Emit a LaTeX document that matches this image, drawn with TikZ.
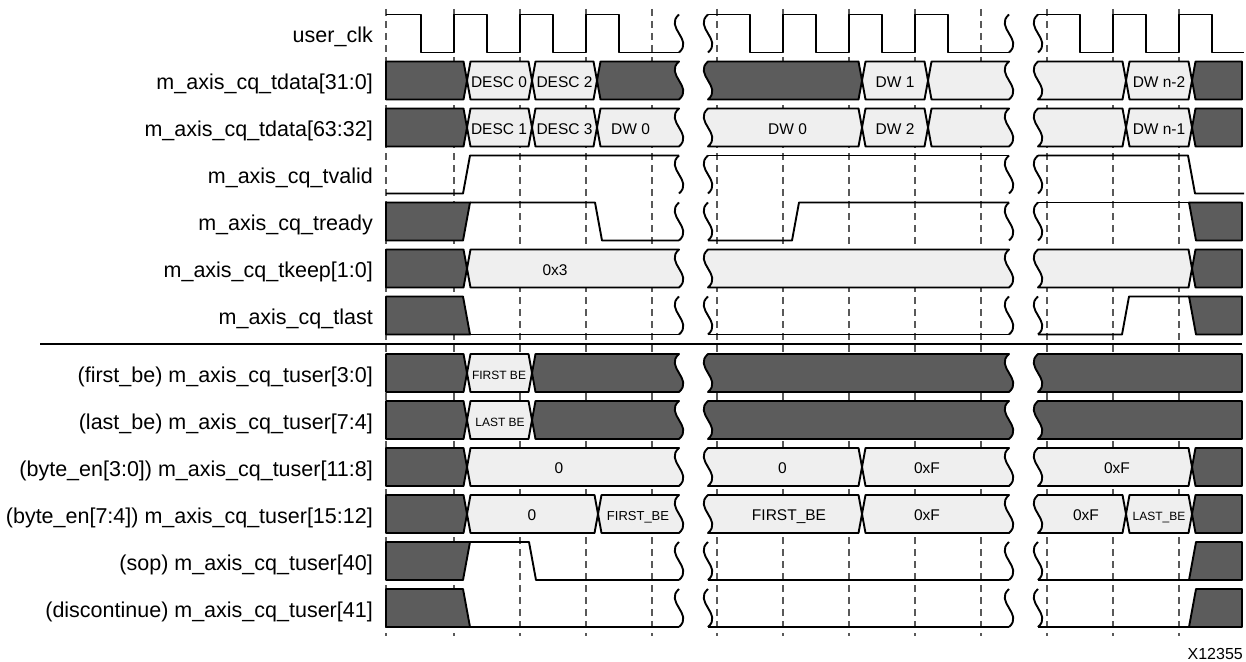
\documentclass[tikz,border=0pt]{standalone}
\usepackage{fontspec}
\setmainfont{Liberation Sans}
\definecolor{dk}{RGB}{92,92,92}
\definecolor{lt}{RGB}{239,239,239}
% left edges (bottom -> top) and right edges (top -> bottom) of bus segments
\newcommand\lS[2]{(#1,#2+19) -- (#1,#2-19)}
\newcommand\lX[2]{(#1+3.5,#2+19) -- (#1,#2) -- (#1+3.5,#2-19)}
\newcommand\lW[2]{(#1,#2+19) .. controls (#1+15,#2+6) and (#1-15,#2-6) .. (#1,#2-19)}
\newcommand\rS[2]{-- (#1,#2-19) -- (#1,#2+19)}
\newcommand\rX[2]{-- (#1-3.5,#2-19) -- (#1,#2) -- (#1-3.5,#2+19)}
\newcommand\rW[2]{-- (#1,#2-19) .. controls (#1-15,#2-6) and (#1+15,#2+6) .. (#1,#2+19)}
\newcommand\sqg[2]{\draw[wv] (#1,#2-19) .. controls (#1-15,#2-6) and (#1+15,#2+6) .. (#1,#2+19);}
\begin{document}
\begin{tikzpicture}[x=1pt,y=-1pt,
  wv/.style={line width=1.9pt,line join=round},
  dkb/.style={wv,fill=dk,draw=black},
  ltb/.style={wv,fill=lt,draw=black},
  grid/.style={black!65,line width=1.2pt,dash pattern=on 7pt off 5pt},
  lab/.style={anchor=base east,font=\fontsize{21.5}{24}\selectfont,inner sep=0pt},
  btx/.style={anchor=base,font=\fontsize{15.5}{18}\selectfont,inner sep=0pt},
  stx/.style={anchor=base,font=\fontsize{12}{14}\selectfont,inner sep=0pt},
  mtx/.style={anchor=base,font=\fontsize{13}{15}\selectfont,inner sep=0pt}]
\useasboundingbox (0,0) rectangle (1246,661);
% grid
\foreach \x in {386,454,520,586,652,717,783,849,915,981,1047,1113,1179}
  \draw[grid] (\x,9) -- (\x,636);
% labels
\node[lab] (n0) at (373,42.5) {user\_clk};
\node[lab] (n1) at (373,89.5) {m\_axis\_cq\_tdata[31:0]};
\node[lab] (n2) at (373,136.5) {m\_axis\_cq\_tdata[63:32]};
\node[lab] (n3) at (373,183.5) {m\_axis\_cq\_tvalid};
\node[lab] (n4) at (373,230.5) {m\_axis\_cq\_tready};
\node[lab] (n5) at (373,277.5) {m\_axis\_cq\_tkeep[1:0]};
\node[lab] (n6) at (373,324.5) {m\_axis\_cq\_tlast};
\node[lab] (n7) at (373,382) {(first\_be) m\_axis\_cq\_tuser[3:0]};
\node[lab] (n8) at (373,429) {(last\_be) m\_axis\_cq\_tuser[7:4]};
\node[lab] (n9) at (373,476) {(byte\_en[3:0]) m\_axis\_cq\_tuser[11:8]};
\node[lab] (n10) at (373,523) {(byte\_en[7:4]) m\_axis\_cq\_tuser[15:12]};
\node[lab] (n11) at (373,570) {(sop) m\_axis\_cq\_tuser[40]};
\node[lab] (n12) at (373,617) {(discontinue) m\_axis\_cq\_tuser[41]};
\draw[line width=2pt] (40,344) -- (1242,344);
% clock
\draw[wv] (386,14.5) -- (421,14.5) -- (421,52.5) -- (454,52.5) -- (454,14.5) -- (487,14.5) -- (487,52.5) -- (520,52.5) -- (520,14.5) -- (553,14.5) -- (553,52.5) -- (586,52.5) -- (586,14.5) -- (619,14.5) -- (619,52.5) -- (679,52.5);
\sqg{679}{33.5}\sqg{708}{33.5}
\draw[wv] (708,14.5) -- (750,14.5) -- (750,52.5) -- (783,52.5) -- (783,14.5) -- (816,14.5) -- (816,52.5) -- (849,52.5) -- (849,14.5) -- (882,14.5) -- (882,52.5) -- (915,52.5) -- (915,14.5) -- (948,14.5) -- (948,52.5) -- (1009,52.5);
\sqg{1009}{33.5}\sqg{1038}{33.5}
\draw[wv] (1038,14.5) -- (1080,14.5) -- (1080,52.5) -- (1113,52.5) -- (1113,14.5) -- (1146,14.5) -- (1146,52.5) -- (1179,52.5) -- (1179,14.5) -- (1212,14.5) -- (1212,52.5) -- (1244,52.5);
% tdata[31:0]
\filldraw[dkb] \lS{386}{80.5} \rX{467}{80.5} -- cycle;
\filldraw[ltb] \lX{467}{80.5} \rX{532}{80.5} -- cycle;
\filldraw[ltb] \lX{532}{80.5} \rX{597}{80.5} -- cycle;
\filldraw[dkb] \lX{597}{80.5} \rW{679}{80.5} -- cycle;
\filldraw[dkb] \lW{708}{80.5} \rX{862}{80.5} -- cycle;
\filldraw[ltb] \lX{862}{80.5} \rX{928}{80.5} -- cycle;
\filldraw[ltb] \lX{928}{80.5} \rW{1009}{80.5} -- cycle;
\filldraw[ltb] \lW{1038}{80.5} \rX{1126}{80.5} -- cycle;
\filldraw[ltb] \lX{1126}{80.5} \rX{1192}{80.5} -- cycle;
\filldraw[dkb] \lX{1192}{80.5} \rS{1242}{80.5} -- cycle;
\node[btx] (d0) at (499,87) {DESC 0};
\node[btx] (d2) at (564.5,87) {DESC 2};
\node[btx] (w1) at (895,87) {DW 1};
\node[btx] (wn2) at (1159,87) {DW n-2};
% tdata[63:32]
\filldraw[dkb] \lS{386}{127.5} \rX{467}{127.5} -- cycle;
\filldraw[ltb] \lX{467}{127.5} \rX{532}{127.5} -- cycle;
\filldraw[ltb] \lX{532}{127.5} \rX{597}{127.5} -- cycle;
\filldraw[ltb] \lX{597}{127.5} \rW{679}{127.5} -- cycle;
\filldraw[ltb] \lW{708}{127.5} \rX{862}{127.5} -- cycle;
\filldraw[ltb] \lX{862}{127.5} \rX{928}{127.5} -- cycle;
\filldraw[ltb] \lX{928}{127.5} \rW{1009}{127.5} -- cycle;
\filldraw[ltb] \lW{1038}{127.5} \rX{1126}{127.5} -- cycle;
\filldraw[ltb] \lX{1126}{127.5} \rX{1192}{127.5} -- cycle;
\filldraw[dkb] \lX{1192}{127.5} \rS{1242}{127.5} -- cycle;
\node[btx] (d1) at (499,134) {DESC 1};
\node[btx] (d3) at (564.5,134) {DESC 3};
\node[btx] (w0a) at (630.5,134) {DW 0};
\node[btx] (w0b) at (787.5,134) {DW 0};
\node[btx] (w2) at (895,134) {DW 2};
\node[btx] (wn1) at (1159,134) {DW n-1};
% tvalid
\draw[wv] (386,193.5) -- (463,193.5) -- (470,155.5) -- (679,155.5);
\sqg{679}{174.5}\sqg{708}{174.5}
\draw[wv] (708,155.5) -- (1009,155.5);
\sqg{1009}{174.5}\sqg{1038}{174.5}
\draw[wv] (1038,155.5) -- (1188,155.5) -- (1195,193.5) -- (1244,193.5);
% tready
\filldraw[dkb] (386,240.5) -- (386,202.5) -- (470,202.5) -- (463,240.5) -- cycle;
\draw[wv] (470,202.5) -- (595,202.5) -- (602,240.5) -- (679,240.5);
\sqg{679}{221.5}\sqg{708}{221.5}
\draw[wv] (708,240.5) -- (792,240.5) -- (799,202.5) -- (1009,202.5);
\sqg{1009}{221.5}\sqg{1038}{221.5}
\draw[wv] (1038,202.5) -- (1189,202.5);
\filldraw[dkb] (1189,202.5) -- (1242,202.5) -- (1242,240.5) -- (1196,240.5) -- cycle;
% tkeep
\filldraw[dkb] \lS{386}{268.5} \rX{467}{268.5} -- cycle;
\filldraw[ltb] \lX{467}{268.5} \rW{679}{268.5} -- cycle;
\filldraw[ltb] \lW{708}{268.5} \rW{1009}{268.5} -- cycle;
\filldraw[ltb] \lW{1038}{268.5} \rX{1192}{268.5} -- cycle;
\filldraw[dkb] \lX{1192}{268.5} \rS{1242}{268.5} -- cycle;
\node[btx] (k3) at (555,275) {0x3};
% tlast
\filldraw[dkb] (386,334.5) -- (386,296.5) -- (463,296.5) -- (470,334.5) -- cycle;
\draw[wv] (470,334.5) -- (679,334.5);
\sqg{679}{315.5}\sqg{708}{315.5}
\draw[wv] (708,334.5) -- (1009,334.5);
\sqg{1009}{315.5}\sqg{1038}{315.5}
\draw[wv] (1038,334.5) -- (1122,334.5) -- (1129,296.5) -- (1189,296.5);
\filldraw[dkb] (1189,296.5) -- (1242,296.5) -- (1242,334.5) -- (1196,334.5) -- cycle;
% tuser[3:0]
\filldraw[dkb] \lS{386}{373} \rX{467}{373} -- cycle;
\filldraw[ltb] \lX{467}{373} \rX{532}{373} -- cycle;
\filldraw[dkb] \lX{532}{373} \rW{679}{373} -- cycle;
\filldraw[dkb] \lW{708}{373} \rW{1009}{373} -- cycle;
\filldraw[dkb] \lW{1038}{373} \rS{1242}{373} -- cycle;
\node[stx] (fb) at (499,379) {FIRST BE};
% tuser[7:4]
\filldraw[dkb] \lS{386}{420} \rX{467}{420} -- cycle;
\filldraw[ltb] \lX{467}{420} \rX{532}{420} -- cycle;
\filldraw[dkb] \lX{532}{420} \rW{679}{420} -- cycle;
\filldraw[dkb] \lW{708}{420} \rW{1009}{420} -- cycle;
\filldraw[dkb] \lW{1038}{420} \rS{1242}{420} -- cycle;
\node[stx] (lb) at (500,426) {LAST BE};
% tuser[11:8]
\filldraw[dkb] \lS{386}{467} \rX{467}{467} -- cycle;
\filldraw[ltb] \lX{467}{467} \rW{679}{467} -- cycle;
\filldraw[ltb] \lW{708}{467} \rX{862}{467} -- cycle;
\filldraw[ltb] \lX{862}{467} \rW{1009}{467} -- cycle;
\filldraw[ltb] \lW{1038}{467} \rX{1192}{467} -- cycle;
\filldraw[dkb] \lX{1192}{467} \rS{1242}{467} -- cycle;
\node[btx] (z1) at (559,473.5) {0};
\node[btx] (z2) at (782.5,473.5) {0};
\node[btx] (f1) at (927,473.5) {0xF};
\node[btx] (f2) at (1117,473.5) {0xF};
% tuser[15:12]
\filldraw[dkb] \lS{386}{514} \rX{467}{514} -- cycle;
\filldraw[ltb] \lX{467}{514} \rX{598}{514} -- cycle;
\filldraw[ltb] \lX{598}{514} \rW{679}{514} -- cycle;
\filldraw[ltb] \lW{708}{514} \rX{862}{514} -- cycle;
\filldraw[ltb] \lX{862}{514} \rW{1009}{514} -- cycle;
\filldraw[ltb] \lW{1038}{514} \rX{1126}{514} -- cycle;
\filldraw[ltb] \lX{1126}{514} \rX{1192}{514} -- cycle;
\filldraw[dkb] \lX{1192}{514} \rS{1242}{514} -- cycle;
\node[btx] (z3) at (532,520.5) {0};
\node[mtx] (fb2) at (638,520) {FIRST\_BE};
\node[btx] (fb3) at (789,520.5) {FIRST\_BE};
\node[btx] (f3) at (927,520.5) {0xF};
\node[btx] (f4) at (1086,520.5) {0xF};
\node[stx] (lb2) at (1159,520) {LAST\_BE};
% sop
\filldraw[dkb] (386,580) -- (386,542) -- (470,542) -- (463,580) -- cycle;
\draw[wv] (470,542) -- (529,542) -- (536,580) -- (679,580);
\sqg{679}{561}\sqg{708}{561}
\draw[wv] (708,580) -- (1009,580);
\sqg{1009}{561}\sqg{1038}{561}
\draw[wv] (1038,580) -- (1189,580);
\filldraw[dkb] (1189,580) -- (1196,542) -- (1242,542) -- (1242,580) -- cycle;
% discontinue
\filldraw[dkb] (386,627) -- (386,589) -- (463,589) -- (470,627) -- cycle;
\draw[wv] (470,627) -- (679,627);
\sqg{679}{608}\sqg{708}{608}
\draw[wv] (708,627) -- (1009,627);
\sqg{1009}{608}\sqg{1038}{608}
\draw[wv] (1038,627) -- (1189,627);
\filldraw[dkb] (1189,627) -- (1196,589) -- (1242,589) -- (1242,627) -- cycle;
% figure id
\node[anchor=base east,font=\fontsize{16}{18}\selectfont,inner sep=0pt] (fid) at (1243,659) {X12355};
\end{tikzpicture}
\end{document}
